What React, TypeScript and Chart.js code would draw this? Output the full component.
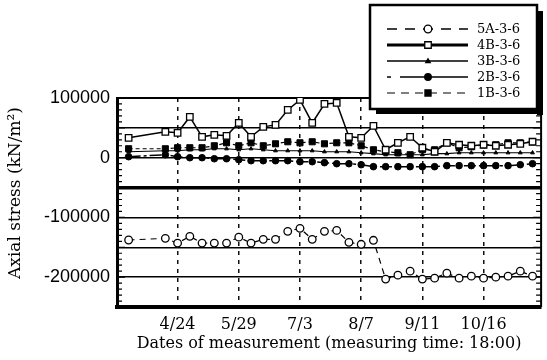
import React, { useEffect, useRef } from 'react';
import { Chart, registerables } from 'chart.js';

Chart.register(...registerables);

// Weekly measurement dates (measuring time 18:00)
const dates = ['3/27', '4/3', '4/10', '4/17', '4/24', '5/1', '5/8', '5/15', '5/22', '5/29', '6/5', '6/12', '6/19', '6/26', '7/3', '7/10', '7/17', '7/24', '7/31', '8/7', '8/14', '8/21', '8/28', '9/4', '9/11', '9/18', '9/25', '10/2', '10/9', '10/16', '10/23', '10/30', '11/6', '11/13'];
const labeledDates = ['4/24', '5/29', '7/3', '8/7', '9/11', '10/16'];
const yLabelValues = [100000, 0, -100000, -200000];

const seriesNames = ['5A-3-6', '4B-3-6', '3B-3-6', '2B-3-6', '1B-3-6'];

const s5A = [-137800, null, null, -135000, -143000, -131700, -143000, -143000, -143000, -133000, -143000, -136700, -136700, -123300, -118300, -136700, -123300, -121700, -141700, -145000, -138300, -203300, -196700, -190000, -203300, -201700, -193300, -201700, -198300, -201700, -200000, -198300, -190000, -198300];
const s4B = [33300, null, null, 43300, 41700, 68300, 35000, 38300, 36700, 58300, 35000, 51700, 55000, 80000, 96700, 58300, 90000, 91700, 35000, 33300, 53300, 13300, 25000, 35000, 16700, 10000, 25000, 21700, 20000, 21700, 20000, 21700, 23300, 26700];
const s3B = [10000, null, null, 11700, 11700, 13300, 13300, 15000, 15000, 13300, 15000, 13300, 11700, 11700, 11700, 11700, 10000, 10000, 10000, 8300, 6700, 5000, 5000, 5000, 5000, 6700, 6700, 8300, 8300, 8300, 8300, 8300, 8300, 8300];
const s2B = [1700, null, null, 5000, 1700, 0, 0, -1700, -1700, -3300, -5000, -5000, -5000, -5000, -6700, -6700, -8300, -10000, -10000, -11700, -15000, -15000, -15000, -15000, -15000, -15000, -13300, -13300, -13300, -13300, -13300, -13300, -11700, -10000];
const s1B = [15000, null, null, 15000, 16700, 16700, 16700, 20000, 25000, 20000, 25000, 20000, 23300, 26700, 25000, 26700, 23300, 25000, 25000, 20000, 13300, 10000, 8300, 5000, 13300, 13300, 25000, 16700, 18300, 21700, 21700, 25000, 25000, 26700];

const allSeries = [s5A, s4B, s3B, s2B, s1B];

const SERIF = '"DejaVu Serif", "Liberation Serif", serif';
const SANS = '"Liberation Sans", Arial, sans-serif';

const looks = [
  { dash: [6, 5], width: 1.2, ps: 'circle', r: 3.8, fill: '#fff', pbw: 1.3, lDash: [10, 8], lWidth: 1.3 },
  { dash: [], width: 1.5, ps: 'rect', r: 4.6, fill: '#fff', pbw: 1.3, lDash: [], lWidth: 3 },
  { dash: [], width: 1.2, ps: 'triangle', r: 2.2, fill: '#000', pbw: 1, lDash: [], lWidth: 1.5 },
  { dash: [12, 3, 3, 3], width: 1.5, ps: 'circle', r: 3.3, fill: '#000', pbw: 1, lDash: [4, 9, 200], lWidth: 1.5 },
  { dash: [4, 3], width: 1.2, ps: 'rect', r: 4.3, fill: '#000', pbw: 1, lDash: [8, 6], lWidth: 1.2 },
];

function drawMarker(ctx: CanvasRenderingContext2D, style: string, x: number, y: number, r: number, fill: string) {
  ctx.save();
  ctx.setLineDash([]);
  ctx.fillStyle = fill;
  ctx.strokeStyle = '#000';
  ctx.lineWidth = 1.3;
  ctx.beginPath();
  if (style === 'circle') {
    ctx.arc(x, y, r, 0, Math.PI * 2);
  } else if (style === 'rect') {
    const s = r * Math.SQRT1_2;
    ctx.rect(x - s, y - s, 2 * s, 2 * s);
  } else {
    ctx.moveTo(x, y - r);
    ctx.lineTo(x + r, y + r * 0.7);
    ctx.lineTo(x - r, y + r * 0.7);
    ctx.closePath();
  }
  ctx.fill();
  ctx.stroke();
  ctx.restore();
}

const framePlugin = {
  id: 'frame',
  beforeDatasetsDraw(chart: any) {
    const { ctx, chartArea: a, scales } = chart;
    const y = scales.y;
    ctx.save();
    ctx.strokeStyle = '#000';
    ctx.setLineDash([]);
    // right border
    ctx.lineWidth = 2;
    ctx.beginPath();
    ctx.moveTo(a.right, a.top);
    ctx.lineTo(a.right, a.bottom);
    ctx.stroke();
    // minor ticks on left and right axes
    ctx.lineWidth = 1.2;
    for (let v = -250000; v <= 100000; v += 10000) {
      const py = y.getPixelForValue(v);
      const len = v % 50000 === 0 ? 8 : 5;
      ctx.beginPath();
      ctx.moveTo(a.left, py);
      ctx.lineTo(a.left + len, py);
      ctx.moveTo(a.right, py);
      ctx.lineTo(a.right - len, py);
      ctx.stroke();
    }
    ctx.restore();
  },
  afterDraw(chart: any) {
    const { ctx, chartArea: a } = chart;
    ctx.save();
    // y-axis title
    ctx.fillStyle = '#000';
    ctx.font = '17px ' + SERIF;
    ctx.textAlign = 'center';
    ctx.textBaseline = 'middle';
    ctx.translate(16, 193);
    ctx.rotate(-Math.PI / 2);
    ctx.fillText('Axial stress (kN/m\u00B2)', 0, 0);
    ctx.restore();

    // legend box with drop shadow
    ctx.save();
    const bx = 370, by = 5, bw = 167, bh = 104;
    ctx.fillStyle = '#000';
    ctx.fillRect(bx + bw, by + 6, 6, bh);
    ctx.fillRect(bx + 6, by + bh, bw, 5);
    ctx.fillStyle = '#fff';
    ctx.fillRect(bx, by, bw, bh);
    ctx.strokeStyle = '#000';
    ctx.lineWidth = 2.5;
    ctx.strokeRect(bx, by, bw, bh);
    const rows = [29, 45, 61, 77, 93];
    seriesNames.forEach((name, i) => {
      const L = looks[i];
      const ry = rows[i];
      ctx.save();
      ctx.strokeStyle = '#000';
      ctx.lineWidth = L.lWidth;
      ctx.setLineDash(L.lDash);
      ctx.beginPath();
      ctx.moveTo(387, ry);
      ctx.lineTo(468, ry);
      ctx.stroke();
      ctx.restore();
      drawMarker(ctx, L.ps, 428, ry, L.r, L.fill);
      ctx.fillStyle = '#000';
      ctx.font = '13px ' + SERIF;
      ctx.textAlign = 'left';
      ctx.textBaseline = 'middle';
      ctx.fillText(name, 477, ry + 1);
    });
    ctx.restore();
  },
};

export default function App() {
  const ref = useRef<HTMLCanvasElement | null>(null);

  useEffect(() => {
    if (!ref.current) return;
    const tickIdx = labeledDates.map((d) => dates.indexOf(d));
    const chart = new Chart(ref.current, {
      type: 'line',
      data: {
        datasets: allSeries.map((vals, i) => ({
          label: seriesNames[i],
          data: vals.map((v, k) => ({ x: k, y: v })),
          borderColor: '#000',
          borderWidth: looks[i].width,
          borderDash: looks[i].dash,
          pointStyle: looks[i].ps as any,
          pointRadius: looks[i].r,
          pointBackgroundColor: looks[i].fill,
          pointBorderColor: '#000',
          pointBorderWidth: looks[i].pbw,
          spanGaps: true,
          tension: 0,
          fill: false,
        })),
      },
      options: {
        responsive: false,
        maintainAspectRatio: false,
        animation: false,
        devicePixelRatio: 1,
        layout: { padding: { top: 98, right: 4, left: 0, bottom: 0 } },
        plugins: { legend: { display: false }, tooltip: { enabled: false } },
        scales: {
          x: {
            type: 'linear',
            min: -0.95,
            max: 33.7,
            afterBuildTicks: (scale: any) => {
              scale.ticks = tickIdx.map((v) => ({ value: v }));
            },
            afterFit: (scale: any) => {
              scale.height = 53;
            },
            ticks: {
              callback: (v: any) => dates[Number(v)] ?? '',
              font: { family: SERIF, size: 16 },
              color: '#000',
              padding: 8,
              maxRotation: 0,
              autoSkip: false,
            },
            grid: { color: '#111', lineWidth: 1.5, drawTicks: false },
            border: { display: true, color: '#000', width: 4, dash: [4, 5] },
            title: {
              display: true,
              text: 'Dates of measurement (measuring time: 18:00)',
              font: { family: SERIF, size: 16 },
              color: '#000',
              padding: { top: 0, bottom: 7 },
            },
          },
          y: {
            type: 'linear',
            min: -250000,
            max: 100000,
            afterFit: (scale: any) => {
              scale.width = 117;
            },
            ticks: {
              stepSize: 50000,
              callback: (v: any) => (yLabelValues.includes(Number(v)) ? String(v) : ''),
              font: { family: SANS, size: 18 },
              color: '#000',
              padding: 7,
            },
            grid: {
              color: '#000',
              lineWidth: (c: any) => (c.tick && c.tick.value === -50000 ? 3.5 : c.tick && c.tick.value === 100000 ? 2 : 1.5),
              drawTicks: false,
            },
            border: { display: true, color: '#000', width: 3 },
          },
        },
      },
      plugins: [framePlugin],
    } as any);
    return () => chart.destroy();
  }, []);

  return (
    <div style={{ position: 'fixed', left: 0, top: 0, width: 547, height: 360, background: '#fff' }}>
      <canvas ref={ref} width={547} height={360} style={{ display: 'block', width: 547, height: 360 }} />
    </div>
  );
}
